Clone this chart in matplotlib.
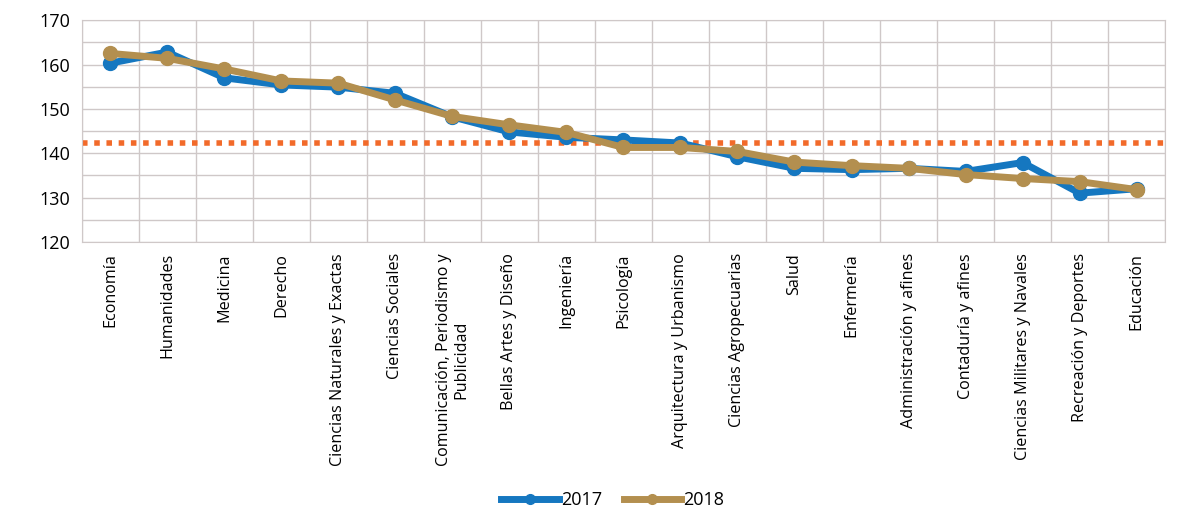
import numpy as np
import matplotlib.pyplot as plt

plt.rcParams['font.family'] = ['Open Sans', 'DejaVu Sans']

categories = [
    "Economía", "Humanidades", "Medicina", "Derecho",
    "Ciencias Naturales y Exactas", "Ciencias Sociales",
    "Comunicación, Periodismo y\nPublicidad", "Bellas Artes y Diseño",
    "Ingeniería", "Psicología", "Arquitectura y Urbanismo",
    "Ciencias Agropecuarias", "Salud", "Enfermería",
    "Administración y afines", "Contaduría y afines",
    "Ciencias Militares y Navales", "Recreación y Deportes", "Educación",
]
values_2017 = [160.3, 162.8, 157.0, 155.4, 154.9, 153.5, 148.2, 144.8, 143.6,
               143.0, 142.3, 139.2, 136.6, 136.3, 136.6, 135.9, 137.9, 131.0, 132.0]
values_2018 = [162.5, 161.4, 159.0, 156.3, 155.8, 152.0, 148.3, 146.4, 144.7,
               141.3, 141.3, 140.4, 138.0, 137.2, 136.6, 135.2, 134.3, 133.6, 131.8]
promedio = 142.3

fig, ax = plt.subplots(figsize=(12, 5.17), dpi=100)
fig.subplots_adjust(left=0.068, right=0.971, top=0.961, bottom=0.532)

x = np.arange(len(categories))
ax.axhline(promedio, color="#f26a2a", linewidth=4, linestyle=(0, (1, 1.2)), zorder=2)
ax.plot(x, values_2017, color="#1577c0", linewidth=5, marker="o", markersize=10,
        label="2017", zorder=3)
ax.plot(x, values_2018, color="#b38f4f", linewidth=5, marker="o", markersize=10,
        label="2018", zorder=4)

ax.set_xlim(-0.5, len(categories) - 0.5)
ax.set_ylim(120, 170)
ax.set_yticks(range(120, 171, 10))
ax.set_yticks(range(125, 171, 10), minor=True)
ax.set_xticks(x)
ax.set_xticklabels(categories, rotation=90, fontsize=11.6, linespacing=1.1)
ax.set_xticks(np.arange(-0.5, len(categories)), minor=True)
ax.tick_params(axis="both", which="both", length=0)
ax.tick_params(axis="y", labelsize=13, pad=8)
ax.tick_params(axis="x", pad=8)
ax.grid(True, which="minor", color="#cfc8c8", linewidth=1)
ax.grid(True, which="major", axis="y", color="#cfc8c8", linewidth=1)
for s in ax.spines.values():
    s.set_color("#cfc8c8")

ax.legend(loc="center", bbox_to_anchor=(0.49, -1.165), ncol=2, frameon=False,
          fontsize=13, handlelength=3.2, columnspacing=1.2, handletextpad=0.1,
          markerscale=0.7)

plt.savefig("out.png")
